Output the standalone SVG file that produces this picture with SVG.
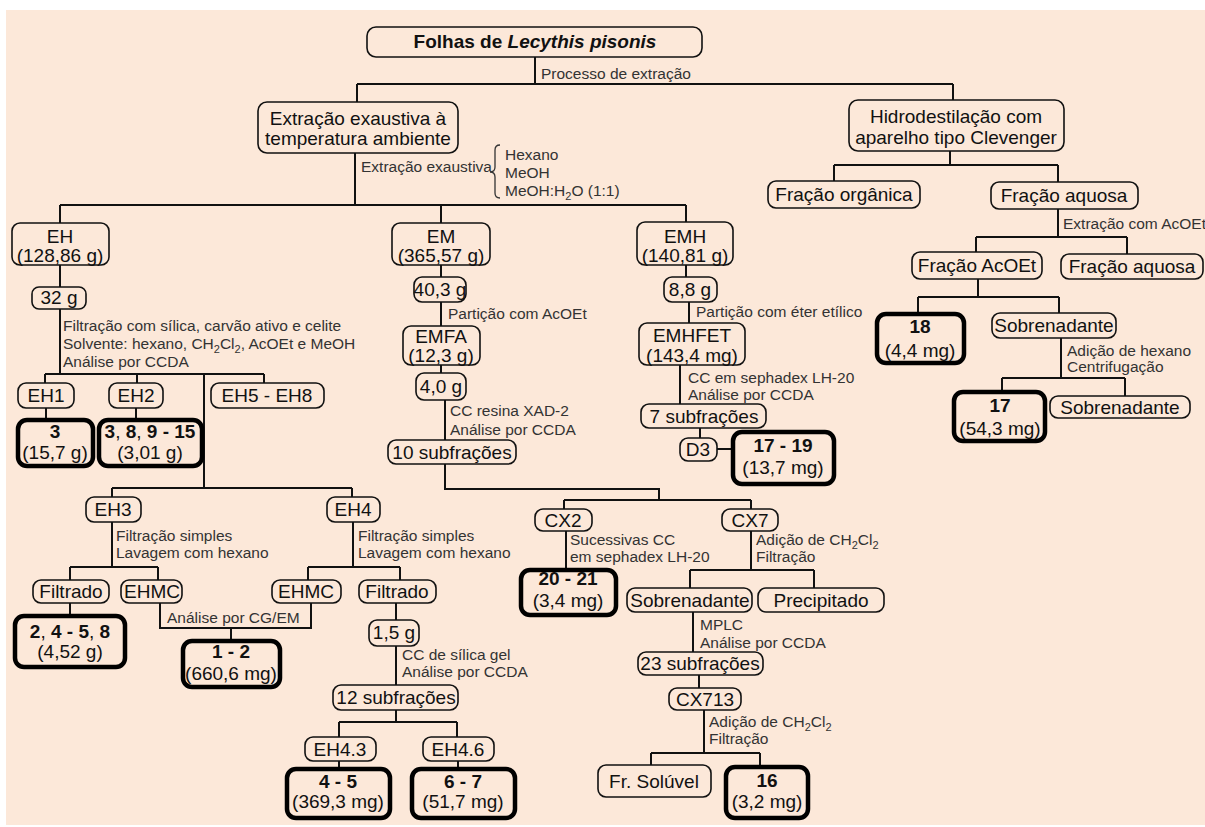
<svg xmlns="http://www.w3.org/2000/svg" width="1205" height="827" viewBox="0 0 1205 827">
<style>
.bg{fill:#fce8d9}
.n{fill:#fce8d9;stroke:#111;stroke-width:1.6}
.r{fill:#fce8d9;stroke:#000;stroke-width:4.5}
text{font-family:"Liberation Sans",Arial,Helvetica,sans-serif}
.t{font-size:19px;fill:#111;text-anchor:middle}
.b{font-weight:bold}
.l{font-size:15.5px;fill:#333}
.c{fill:none;stroke:#111;stroke-width:2}
.s{font-size:11px}
</style>
<rect width="1205" height="827" fill="#fff"/>
<rect class="bg" x="6" y="10" width="1199" height="815"/>
<g id="connectors" class="c">
<path d="M535 57V84M357 84H953M357 84V102M953 84V100"/>
<path d="M355 153V205M60 205H686M60 205V223M441 205V223M686 205V222"/>
<path d="M950 151V165M834 165H1058M834 165V181M1058 165V182"/>
<path d="M1058 209V237M976 237H1127M976 237V252M1127 237V254"/>
<path d="M978 279V297M918 297H1059M918 297V314M1059 297V313"/>
<path d="M1061 338V378M1002 378H1125M1002 378V392M1125 378V396"/>
<path d="M60 265V287M60 309V374M45 374H264M45 374V383M137 374V383M264 374V383M204 374V488M112 488H352M112 488V497M352 488V497"/>
<path d="M46 408V420M136 408V420"/>
<path d="M112 522V567M70 567H158M70 567V580M158 567V580M70 603V616"/>
<path d="M160 603V628H311V603M231 628V641"/>
<path d="M353 522V567M308 567H400M308 567V580M400 567V580"/>
<path d="M396 603V620M396 646V685M396 710V722M339 722H457M339 722V737M457 722V737M339 761V769M458 761V769"/>
<path d="M441 265V277M441 302V326M441 365V373M445 400V440M445 464V489H659V500M564 500H751M564 500V509M751 500V509"/>
<path d="M566 531V570M751 531V570M690 570H814M690 570V588M814 570V588"/>
<path d="M693 612V652M699 675V688M704 710V753M651 753H760M651 753V765M760 753V767"/>
<path d="M686 265V277M689 302V323M680 365V404M700 428V438M717 449H733"/>
<path d="M500 145Q495 145 495 150V167Q495 172 490 172Q495 172 495 177V193Q495 198 500 198" stroke-width="1.3" stroke="#333"/>
</g>
<g id="labels">
<text class="l" x="541" y="79">Processo de extração</text>
<text class="l" x="361" y="172">Extração exaustiva</text>
<text class="l" x="505" y="160">Hexano</text>
<text class="l" x="505" y="178">MeOH</text>
<text class="l" x="505" y="196">MeOH:H<tspan class="s" dy="4">2</tspan><tspan dy="-4">O (1:1)</tspan></text>
<text class="l" x="1063" y="229">Extração com AcOEt</text>
<text class="l" x="63" y="331">Filtração com sílica, carvão ativo e celite</text>
<text class="l" x="63" y="349">Solvente: hexano, CH<tspan class="s" dy="4">2</tspan><tspan dy="-4">Cl</tspan><tspan class="s" dy="4">2</tspan><tspan dy="-4">, AcOEt e MeOH</tspan></text>
<text class="l" x="63" y="367">Análise por CCDA</text>
<text class="l" x="116" y="541">Filtração simples</text>
<text class="l" x="116" y="558">Lavagem com hexano</text>
<text class="l" x="358" y="541">Filtração simples</text>
<text class="l" x="358" y="558">Lavagem com hexano</text>
<text class="l" x="167" y="623">Análise por CG/EM</text>
<text class="l" x="402" y="660">CC de sílica gel</text>
<text class="l" x="402" y="677">Análise por CCDA</text>
<text class="l" x="448" y="319">Partição com AcOEt</text>
<text class="l" x="450" y="416">CC resina XAD-2</text>
<text class="l" x="450" y="435">Análise por CCDA</text>
<text class="l" x="570" y="545">Sucessivas CC</text>
<text class="l" x="570" y="562">em sephadex LH-20</text>
<text class="l" x="756" y="545">Adição de CH<tspan class="s" dy="4">2</tspan><tspan dy="-4">Cl</tspan><tspan class="s" dy="4">2</tspan></text>
<text class="l" x="756" y="562">Filtração</text>
<text class="l" x="700" y="630">MPLC</text>
<text class="l" x="700" y="648">Análise por CCDA</text>
<text class="l" x="709" y="727">Adição de CH<tspan class="s" dy="4">2</tspan><tspan dy="-4">Cl</tspan><tspan class="s" dy="4">2</tspan></text>
<text class="l" x="709" y="744">Filtração</text>
<text class="l" x="696" y="317">Partição com éter etílico</text>
<text class="l" x="688" y="383">CC em sephadex LH-20</text>
<text class="l" x="688" y="400">Análise por CCDA</text>
<text class="l" x="1067" y="356">Adição de hexano</text>
<text class="l" x="1067" y="372">Centrifugação</text>
</g>
<g id="n-title"><rect class="n" x="367" y="27" width="335" height="30" rx="9"/><text class="t b" x="535" y="48" font-size="18.5">Folhas de <tspan font-style="italic">Lecythis pisonis</tspan></text></g>
<g id="n-ext"><rect class="n" x="258" y="102" width="200" height="51" rx="9"/><text class="t" x="358" y="125">Extração exaustiva à</text><text class="t" x="358" y="145">temperatura ambiente</text></g>
<g id="n-hidro"><rect class="n" x="849" y="100" width="215" height="51" rx="9"/><text class="t" x="956" y="123">Hidrodestilação com</text><text class="t" x="956" y="144">aparelho tipo Clevenger</text></g>
<g id="n-eh"><rect class="n" x="12" y="223" width="97" height="42" rx="8"/><text class="t" x="60" y="243">EH</text><text class="t" x="60" y="262">(128,86 g)</text></g>
<g id="n-em"><rect class="n" x="392" y="223" width="98" height="42" rx="8"/><text class="t" x="441" y="243">EM</text><text class="t" x="441" y="262">(365,57 g)</text></g>
<g id="n-emh"><rect class="n" x="637" y="222" width="96" height="43" rx="8"/><text class="t" x="685" y="243">EMH</text><text class="t" x="685" y="262">(140,81 g)</text></g>
<g id="n-forg"><rect class="n" x="768" y="181" width="152" height="27" rx="8"/><text class="t" x="844" y="201">Fração orgânica</text></g>
<g id="n-faq"><rect class="n" x="991" y="182" width="147" height="27" rx="8"/><text class="t" x="1064" y="202">Fração aquosa</text></g>
<g id="n-facoet"><rect class="n" x="912" y="252" width="130" height="27" rx="8"/><text class="t" x="977" y="272">Fração AcOEt</text></g>
<g id="n-faq2"><rect class="n" x="1061" y="254" width="142" height="25" rx="8"/><text class="t" x="1132" y="273">Fração aquosa</text></g>
<g id="n-32g"><rect class="n" x="32" y="287" width="54" height="22" rx="7"/><text class="t" x="59" y="304">32 g</text></g>
<g id="n-eh1"><rect class="n" x="18" y="383" width="56" height="25" rx="8"/><text class="t" x="46" y="402">EH1</text></g>
<g id="n-eh2"><rect class="n" x="109" y="383" width="54" height="25" rx="8"/><text class="t" x="136" y="402">EH2</text></g>
<g id="n-eh58"><rect class="n" x="211" y="383" width="113" height="25" rx="8"/><text class="t" x="267" y="402">EH5 - EH8</text></g>
<g id="n-eh3"><rect class="n" x="86" y="497" width="55" height="25" rx="8"/><text class="t" x="113" y="516">EH3</text></g>
<g id="n-eh4"><rect class="n" x="327" y="497" width="53" height="25" rx="8"/><text class="t" x="353" y="516">EH4</text></g>
<g id="n-filtL"><rect class="n" x="33" y="580" width="76" height="23" rx="8"/><text class="t" x="71" y="598">Filtrado</text></g>
<g id="n-ehmcL"><rect class="n" x="121" y="580" width="61" height="23" rx="8"/><text class="t" x="152" y="598">EHMC</text></g>
<g id="n-ehmcR"><rect class="n" x="272" y="580" width="69" height="23" rx="8"/><text class="t" x="306" y="598">EHMC</text></g>
<g id="n-filtR"><rect class="n" x="359" y="580" width="77" height="23" rx="8"/><text class="t" x="397" y="598">Filtrado</text></g>
<g id="n-15g"><rect class="n" x="369" y="620" width="50" height="26" rx="8"/><text class="t" x="394" y="639">1,5 g</text></g>
<g id="n-12sub"><rect class="n" x="333" y="685" width="125" height="25" rx="8"/><text class="t" x="396" y="704">12 subfrações</text></g>
<g id="n-eh43"><rect class="n" x="305" y="737" width="71" height="24" rx="8"/><text class="t" x="340" y="756">EH4.3</text></g>
<g id="n-eh46"><rect class="n" x="423" y="737" width="71" height="24" rx="8"/><text class="t" x="458" y="756">EH4.6</text></g>
<g id="n-403g"><rect class="n" x="414" y="277" width="52" height="25" rx="8"/><text class="t" x="440" y="296">40,3 g</text></g>
<g id="n-emfa"><rect class="n" x="403" y="326" width="77" height="39" rx="8"/><text class="t" x="441" y="343">EMFA</text><text class="t" x="441" y="362">(12,3 g)</text></g>
<g id="n-40g"><rect class="n" x="416" y="373" width="50" height="27" rx="8"/><text class="t" x="441" y="393">4,0 g</text></g>
<g id="n-10sub"><rect class="n" x="388" y="440" width="128" height="24" rx="8"/><text class="t" x="452" y="459">10 subfrações</text></g>
<g id="n-cx2"><rect class="n" x="535" y="509" width="57" height="22" rx="8"/><text class="t" x="563" y="527">CX2</text></g>
<g id="n-cx7"><rect class="n" x="722" y="509" width="56" height="22" rx="8"/><text class="t" x="750" y="527">CX7</text></g>
<g id="n-sobM"><rect class="n" x="627" y="588" width="125" height="24" rx="8"/><text class="t" x="690" y="607">Sobrenadante</text></g>
<g id="n-prec"><rect class="n" x="758" y="588" width="126" height="24" rx="8"/><text class="t" x="821" y="607">Precipitado</text></g>
<g id="n-23sub"><rect class="n" x="638" y="652" width="125" height="23" rx="8"/><text class="t" x="700" y="670">23 subfrações</text></g>
<g id="n-cx713"><rect class="n" x="669" y="688" width="72" height="22" rx="8"/><text class="t" x="705" y="706">CX713</text></g>
<g id="n-frsol"><rect class="n" x="598" y="765" width="113" height="32" rx="8"/><text class="t" x="654" y="788">Fr. Solúvel</text></g>
<g id="n-88g"><rect class="n" x="664" y="277" width="53" height="25" rx="8"/><text class="t" x="690" y="296">8,8 g</text></g>
<g id="n-emhfet"><rect class="n" x="639" y="323" width="106" height="42" rx="8"/><text class="t" x="692" y="342">EMHFET</text><text class="t" x="692" y="362">(143,4 mg)</text></g>
<g id="n-7sub"><rect class="n" x="641" y="404" width="125" height="24" rx="8"/><text class="t" x="704" y="423">7 subfrações</text></g>
<g id="n-d3"><rect class="n" x="680" y="438" width="37" height="23" rx="8"/><text class="t" x="698" y="456">D3</text></g>
<g id="n-sobR1"><rect class="n" x="992" y="313" width="124" height="25" rx="8"/><text class="t" x="1054" y="332">Sobrenadante</text></g>
<g id="n-sobR2"><rect class="n" x="1050" y="396" width="140" height="22" rx="8"/><text class="t" x="1120" y="414">Sobrenadante</text></g>
<g id="r-3"><rect class="r" x="18" y="420" width="75" height="46" rx="9"/><text class="t b" x="55" y="438">3</text><text class="t" x="55" y="459">(15,7 g)</text></g>
<g id="r-3-15"><rect class="r" x="99" y="420" width="103" height="46" rx="9"/><text class="t b" x="150" y="438">3<tspan font-weight="normal">, </tspan>8<tspan font-weight="normal">, </tspan>9 - 15</text><text class="t" x="150" y="459">(3,01 g)</text></g>
<g id="r-2-8"><rect class="r" x="15" y="616" width="110" height="51" rx="9"/><text class="t b" x="70" y="638">2<tspan font-weight="normal">, </tspan>4 - 5<tspan font-weight="normal">, </tspan>8</text><text class="t" x="70" y="658">(4,52 g)</text></g>
<g id="r-1-2"><rect class="r" x="183" y="641" width="97" height="46" rx="9"/><text class="t b" x="231" y="658">1 - 2</text><text class="t" x="231" y="680">(660,6 mg)</text></g>
<g id="r-4-5"><rect class="r" x="287" y="769" width="103" height="49" rx="9"/><text class="t b" x="338" y="788">4 - 5</text><text class="t" x="338" y="808">(369,3 mg)</text></g>
<g id="r-6-7"><rect class="r" x="412" y="769" width="103" height="49" rx="9"/><text class="t b" x="463" y="788">6 - 7</text><text class="t" x="463" y="808">(51,7 mg)</text></g>
<g id="r-20-21"><rect class="r" x="521" y="570" width="95" height="45" rx="9"/><text class="t b" x="568" y="585">20 - 21</text><text class="t" x="568" y="607">(3,4 mg)</text></g>
<g id="r-16"><rect class="r" x="726" y="767" width="82" height="51" rx="9"/><text class="t b" x="767" y="787">16</text><text class="t" x="767" y="808">(3,2 mg)</text></g>
<g id="r-17-19"><rect class="r" x="733" y="432" width="101" height="52" rx="9"/><text class="t b" x="783" y="452">17 - 19</text><text class="t" x="783" y="474">(13,7 mg)</text></g>
<g id="r-18"><rect class="r" x="877" y="314" width="87" height="49" rx="9"/><text class="t b" x="920" y="333">18</text><text class="t" x="920" y="357">(4,4 mg)</text></g>
<g id="r-17"><rect class="r" x="954" y="392" width="91" height="49" rx="9"/><text class="t b" x="1000" y="412">17</text><text class="t" x="1000" y="435">(54,3 mg)</text></g>
</svg>
